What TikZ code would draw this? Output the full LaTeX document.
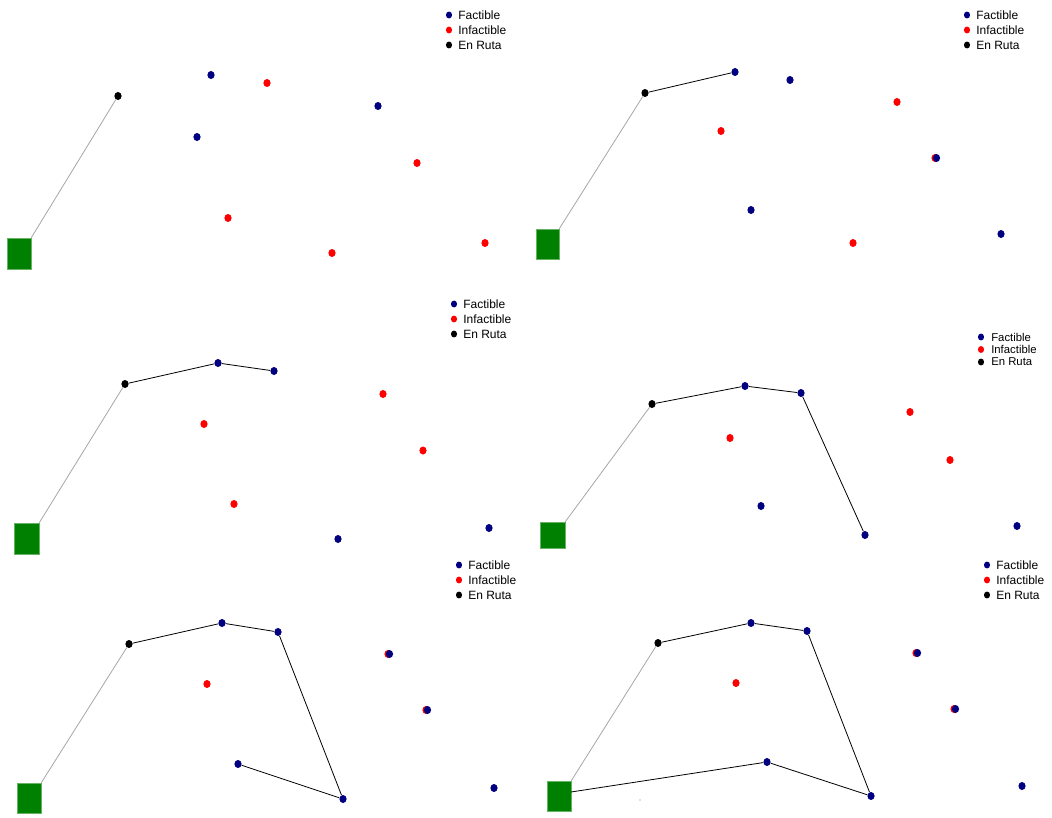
\documentclass[tikz,border=0pt]{standalone}
\usepackage{fontspec}
\setmainfont{Liberation Sans}
\usetikzlibrary{shapes.geometric}
\definecolor{fnavy}{RGB}{0,0,128}
\definecolor{fred}{RGB}{255,0,0}
\definecolor{dgreen}{RGB}{0,128,0}
\tikzset{
 pt/.style={ellipse, inner sep=0pt, minimum width=5.4pt, minimum height=6pt},
 fac/.style={pt, fill=fnavy},
 inf/.style={pt, fill=fred},
 ruta/.style={pt, fill=black},
 depot/.style={rectangle, inner sep=0pt, fill=dgreen, draw=dgreen!60!white, line width=0.4pt},
 firstleg/.style={draw=gray!70, line width=0.6pt},
 leg/.style={draw=black, line width=0.6pt},
 legtxt/.style={anchor=west, inner sep=0pt, font=\fontsize{9}{10}\selectfont},
 legtxts/.style={anchor=west, inner sep=0pt, font=\fontsize{8.5}{10}\selectfont},
 legdot/.style={ellipse, inner sep=0pt, minimum width=4.6pt, minimum height=5.2pt}
}
\newcommand{\mylegend}[7]{%
 \node[legdot,fill=fnavy] (#1a) at (#2,#4) {};
 \node[#7] (#1at) at (#3,#4) {Factible};
 \node[legdot,fill=fred] (#1b) at (#2,#5) {};
 \node[#7] (#1bt) at (#3,#5) {Infactible};
 \node[legdot,fill=black] (#1c) at (#2,#6) {};
 \node[#7] (#1ct) at (#3,#6) {En Ruta};
}
\begin{document}
\begin{tikzpicture}[x={(0.75pt,0)}, y={(0,-0.75pt)}]
\useasboundingbox (0,0) rectangle (1052,817);

% ---------- Panel 1 ----------
\mylegend{LA}{449}{458}{15}{30}{45}{legtxt}
\node[depot, minimum width=18pt, minimum height=23.25pt] (A0) at (19,253.5) {};
\node[ruta] (A1) at (118,96) {};
\node[fac] (A2) at (211,75) {};
\node[inf] (A3) at (267,83) {};
\node[fac] (A4) at (378,106) {};
\node[fac] (A5) at (197,137) {};
\node[inf] (A6) at (417,163) {};
\node[inf] (A7) at (228,218) {};
\node[inf] (A8) at (332,253) {};
\node[inf] (A9) at (485,243) {};
\draw[firstleg] (A0.north east) -- (A1);

% ---------- Panel 2 ----------
\mylegend{LB}{967}{976}{15}{30}{45}{legtxt}
\node[depot, minimum width=17.25pt, minimum height=22.5pt] (B0) at (547.5,244) {};
\node[ruta] (B1) at (645,93) {};
\node[fac] (B2) at (735,72) {};
\node[fac] (B3) at (790,80) {};
\node[inf] (B4) at (721,131) {};
\node[inf] (B5) at (897,102) {};
\node[inf] (B6r) at (935,158) {};
\node[fac] (B6) at (936.5,158) {};
\node[fac] (B7) at (751,210) {};
\node[inf] (B8) at (853,243) {};
\node[fac] (B9) at (1001,234) {};
\draw[firstleg] (B0.north east) -- (B1);
\draw[leg] (B1) -- (B2);

% ---------- Panel 3 ----------
\mylegend{LC}{454}{463}{304}{319}{334}{legtxt}
\node[depot, minimum width=18.75pt, minimum height=23.25pt] (C0) at (26.5,538.5) {};
\node[ruta] (C1) at (125,384) {};
\node[fac] (C2) at (218,363) {};
\node[fac] (C3) at (274,371) {};
\node[inf] (C4) at (204,424) {};
\node[inf] (C5) at (383,394) {};
\node[inf] (C6) at (423,450.5) {};
\node[inf] (C7) at (234,504) {};
\node[fac] (C8) at (338,539) {};
\node[fac] (C9) at (489,528) {};
\draw[firstleg] (C0.north east) -- (C1);
\draw[leg] (C1) -- (C2) -- (C3);

% ---------- Panel 4 ----------
\mylegend{LD}{981}{991}{337}{349.5}{362}{legtxts}
\node[depot, minimum width=18.75pt, minimum height=19.5pt] (D0) at (552.5,535) {};
\node[ruta] (D1) at (652,404) {};
\node[fac] (D2) at (745,386) {};
\node[fac] (D3) at (801,393) {};
\node[inf] (D4) at (730,438) {};
\node[fac] (D5) at (761,506) {};
\node[fac] (D6) at (865,535) {};
\node[inf] (D7) at (910,412) {};
\node[inf] (D8) at (950,460) {};
\node[fac] (D9) at (1017,526) {};
\draw[firstleg] (D0.north east) -- (D1);
\draw[leg] (D1) -- (D2) -- (D3) -- (D6);

% ---------- Panel 5 ----------
\mylegend{LE}{459}{468}{565}{580}{595}{legtxt}
\node[depot, minimum width=18pt, minimum height=22.5pt] (E0) at (29,798) {};
\node[ruta] (E1) at (129,644) {};
\node[fac] (E2) at (222,623) {};
\node[fac] (E3) at (278,632) {};
\node[inf] (E4) at (207,684) {};
\node[fac] (E5) at (238,764) {};
\node[fac] (E6) at (343,799) {};
\node[inf] (E7r) at (388,654) {};
\node[fac] (E7) at (389.5,654) {};
\node[inf] (E8r) at (426,710) {};
\node[fac] (E8) at (427.5,710) {};
\node[fac] (E9) at (494,788) {};
\draw[firstleg] (E0.north east) -- (E1);
\draw[leg] (E1) -- (E2) -- (E3) -- (E6) -- (E5);

% ---------- Panel 6 ----------
\mylegend{LF}{987}{996}{565}{580}{595}{legtxt}
\node[depot, minimum width=18pt, minimum height=22.5pt] (F0) at (559,796) {};
\coordinate (F0e) at (571,792);
\node[ruta] (F1) at (658,643) {};
\node[fac] (F2) at (751,623) {};
\node[fac] (F3) at (807,631) {};
\node[inf] (F4) at (736,683) {};
\node[fac] (F5) at (767,762) {};
\node[fac] (F6) at (871,796) {};
\node[inf] (F7r) at (916,653) {};
\node[fac] (F7) at (917.5,653) {};
\node[inf] (F8r) at (954,709) {};
\node[fac] (F8) at (955.5,709) {};
\node[fac] (F9) at (1022,786) {};
\node[circle, fill=gray, inner sep=0pt, minimum size=0.8pt] (F10) at (640,800) {};
\draw[firstleg] (F0.north east) -- (F1);
\draw[leg] (F1) -- (F2) -- (F3) -- (F6) -- (F5) -- (F0e);
\end{tikzpicture}
\end{document}
